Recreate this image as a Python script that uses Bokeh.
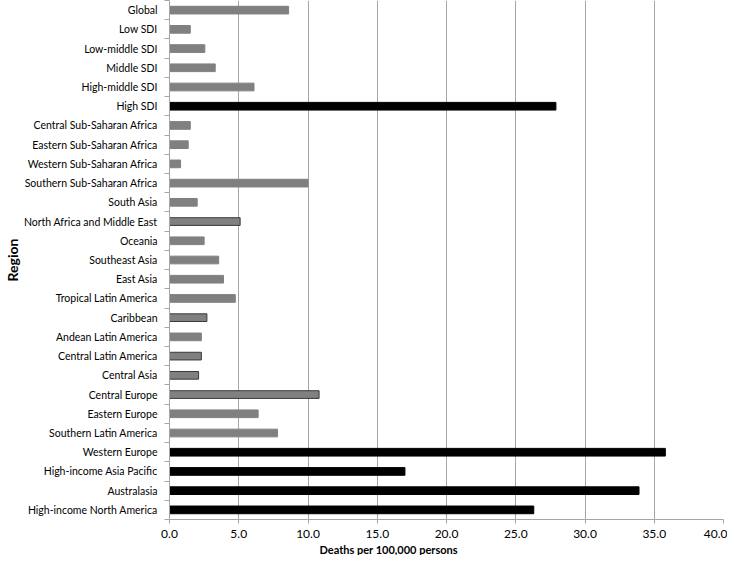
from bokeh.plotting import figure
from bokeh.models import FixedTicker, Title, ColumnDataSource, NumeralTickFormatter
from bokeh.embed import file_html
from bokeh.resources import INLINE

regions = [
    "Global", "Low SDI", "Low-middle SDI", "Middle SDI", "High-middle SDI", "High SDI",
    "Central Sub-Saharan Africa", "Eastern Sub-Saharan Africa", "Western Sub-Saharan Africa",
    "Southern Sub-Saharan Africa", "South Asia", "North Africa and Middle East", "Oceania",
    "Southeast Asia", "East Asia", "Tropical Latin America", "Caribbean", "Andean Latin America",
    "Central Latin America", "Central Asia", "Central Europe", "Eastern Europe",
    "Southern Latin America", "Western Europe", "High-income Asia Pacific", "Australasia",
    "High-income North America",
]
deaths = [8.6, 1.5, 2.55, 3.3, 6.1, 27.9, 1.5, 1.35, 0.8, 10.0, 2.0, 5.1, 2.5, 3.55, 3.9,
          4.75, 2.7, 2.3, 2.3, 2.1, 10.8, 6.4, 7.8, 35.8, 17.0, 33.9, 26.3]
black_regions = ["High SDI", "Western Europe", "High-income Asia Pacific", "Australasia",
                 "High-income North America"]
outlined_regions = ["North Africa and Middle East", "Caribbean", "Central Latin America",
                    "Central Asia", "Central Europe"]
x_ticks = [0, 5, 10, 15, 20, 25, 30, 35, 40]

n = len(regions)
ypos = [n - 1 - i + 0.5 for i in range(n)]
fills = ["#000000" if r in black_regions else "#808080" for r in regions]
lines = ["#000000" if r in black_regions else ("#3a3a3a" if r in outlined_regions else "#808080")
         for r in regions]

src = ColumnDataSource(dict(y=ypos, x=deaths, fill=fills, line=lines, name=regions))

p = figure(width=727, height=555, output_backend="svg", toolbar_location=None,
           x_range=(0, 40), y_range=(0, n),
           min_border_left=160, min_border_right=4, min_border_top=0, min_border_bottom=0)
p.outline_line_color = None
p.background_fill_color = "white"

p.hbar(y="y", right="x", left=0, height=0.4, fill_color="fill", line_color="line",
       line_width=1, source=src)

FONT = "Lato"
# x axis
p.xaxis.ticker = FixedTicker(ticks=x_ticks)
p.xaxis.formatter = NumeralTickFormatter(format="0.0")
p.xaxis.axis_line_color = "#a6a6a6"
p.xaxis.major_tick_line_color = "#a6a6a6"
p.xaxis.major_tick_out = 4
p.xaxis.major_tick_in = 0
p.xaxis.minor_tick_line_color = None
p.xaxis.major_label_text_font = FONT
p.xaxis.major_label_text_font_size = "12px"
p.xaxis.major_label_text_color = "#000000"
p.xaxis.major_label_standoff = 6

p.add_layout(Title(text="Deaths per 100,000 persons", align="left", offset=150,
                   text_font=FONT, text_font_size="11px", text_font_style="bold",
                   text_color="#000000", standoff=0), "below")

# y axis
p.yaxis.ticker = FixedTicker(ticks=ypos, minor_ticks=list(range(n + 1)))
p.yaxis.major_label_overrides = {y: r for y, r in zip(ypos, regions)}
p.yaxis.major_tick_line_color = None
p.yaxis.minor_tick_line_color = "#a6a6a6"
p.yaxis.minor_tick_out = 5
p.yaxis.minor_tick_in = 0
p.yaxis.axis_line_color = "#a6a6a6"
p.yaxis.major_label_text_font = FONT
p.yaxis.major_label_text_font_size = "10.5px"
p.yaxis.major_label_text_color = "#000000"
p.yaxis.major_label_standoff = 6
p.yaxis.axis_label = "Region"
p.yaxis.axis_label_text_font = FONT
p.yaxis.axis_label_text_font_size = "14px"
p.yaxis.axis_label_text_font_style = "bold"
p.yaxis.axis_label_text_color = "#000000"
p.yaxis.axis_label_standoff = 0

p.xgrid.ticker = FixedTicker(ticks=x_ticks)
p.xgrid.grid_line_color = "#a6a6a6"
p.xgrid.grid_line_width = 1
p.ygrid.grid_line_color = None

open("out.html", "w").write(file_html(p, INLINE))
